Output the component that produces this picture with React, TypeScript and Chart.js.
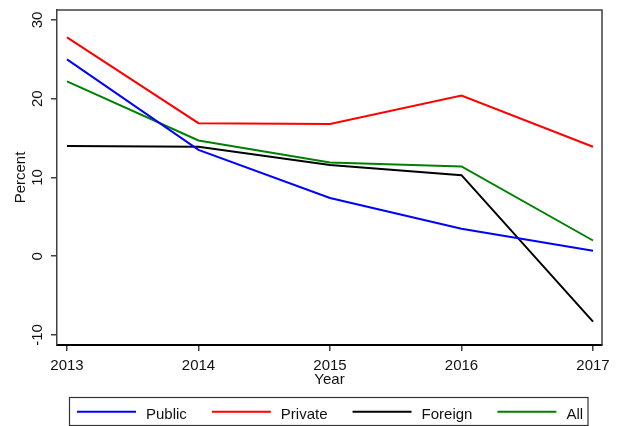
import React, { useEffect, useRef } from "react";
import { Chart, registerables } from "chart.js";

Chart.register(...registerables);

const years = [2013, 2014, 2015, 2016, 2017];
const publicVals = [25.0, 13.5, 7.4, 3.5, 0.7];
const privateVals = [27.8, 16.9, 16.8, 20.4, 13.9];
const foreignVals = [14.0, 13.9, 11.6, 10.3, -8.3];
const allVals = [22.2, 14.7, 11.9, 11.4, 2.0];
const yTicks = [-10, 0, 10, 20, 30];
const seriesNames = ["Public", "Private", "Foreign", "All"];
const seriesColors = ["#0000ff", "#ff0000", "#000000", "#008000"];
const xTitle = "Year";
const yTitle = "Percent";

const FONT = '15px "Liberation Sans", Arial, sans-serif';

const decorPlugin = {
  id: "decor",
  afterDraw(chart: any) {
    const ctx = chart.ctx as CanvasRenderingContext2D;
    const ca = chart.chartArea;
    const xs = chart.scales.x;
    const ys = chart.scales.y;
    ctx.save();
    // frame top / right
    ctx.strokeStyle = "#404040";
    ctx.lineWidth = 1.5;
    ctx.beginPath();
    ctx.moveTo(ca.left, ca.top);
    ctx.lineTo(ca.right, ca.top);
    ctx.lineTo(ca.right, ca.bottom);
    ctx.stroke();

    ctx.fillStyle = "#111";
    ctx.font = FONT;
    // x tick labels
    ctx.textAlign = "center";
    ctx.textBaseline = "alphabetic";
    years.forEach((yr) => {
      ctx.fillText(String(yr), xs.getPixelForValue(yr), 369.5);
    });
    // x title
    ctx.fillText(xTitle, (ca.left + ca.right) / 2, 383.5);

    // y tick labels rotated
    yTicks.forEach((v) => {
      const py = ys.getPixelForValue(v);
      ctx.save();
      ctx.translate(41.7, py);
      ctx.rotate(-Math.PI / 2);
      ctx.textAlign = "center";
      ctx.textBaseline = "alphabetic";
      ctx.fillText(String(v), 0, 0);
      ctx.restore();
    });
    // y title
    ctx.save();
    ctx.translate(25, (ca.top + ca.bottom) / 2);
    ctx.rotate(-Math.PI / 2);
    ctx.textAlign = "center";
    ctx.fillText(yTitle, 0, 0);
    ctx.restore();

    // legend
    const bx = 69.5, by = 397.5, bw = 518.5, bh = 28;
    ctx.strokeStyle = "#333";
    ctx.lineWidth = 1.2;
    ctx.strokeRect(bx, by, bw, bh);
    let x = 77;
    const ly = 411.7;
    ctx.textAlign = "left";
    chart.data.datasets.forEach((ds: any) => {
      ctx.strokeStyle = ds.borderColor;
      ctx.lineWidth = 2;
      ctx.beginPath();
      ctx.moveTo(x, ly);
      ctx.lineTo(x + 59, ly);
      ctx.stroke();
      x += 69;
      ctx.fillStyle = "#111";
      ctx.fillText(ds.label, x, 418.7);
      x += ctx.measureText(ds.label).width + 25;
    });
    ctx.restore();
  },
};

export default function App() {
  const ref = useRef<HTMLCanvasElement>(null);
  useEffect(() => {
    const seriesData = [publicVals, privateVals, foreignVals, allVals];
    const chart = new Chart(ref.current!, {
      type: "line",
      data: {
        datasets: seriesData.map((vals, i) => ({
          label: seriesNames[i],
          data: years.map((yr, j) => ({ x: yr, y: vals[j] })),
          borderColor: seriesColors[i],
          backgroundColor: seriesColors[i],
          borderWidth: 2,
          pointRadius: 0,
          tension: 0,
          fill: false,
        })),
      },
      options: {
        animation: false,
        responsive: false,
        maintainAspectRatio: false,
        layout: { padding: { left: 0, top: 10, right: 17, bottom: 0 } },
        plugins: { legend: { display: false }, tooltip: { enabled: false } },
        scales: {
          x: {
            type: "linear",
            min: 2012.924,
            max: 2017.0684,
            afterBuildTicks: (s: any) => {
              s.ticks = years.map((v) => ({ value: v }));
            },
            afterFit: (s: any) => {
              s.height = 81;
            },
            ticks: { display: false },
            grid: { drawOnChartArea: false, drawTicks: true, tickLength: 6, color: "#404040", lineWidth: 1.5 },
            border: { display: true, color: "#000", width: 2 },
          },
          y: {
            type: "linear",
            min: -11.27,
            max: 31.27,
            afterBuildTicks: (s: any) => {
              s.ticks = yTicks.map((v) => ({ value: v }));
            },
            afterFit: (s: any) => {
              s.width = 57;
            },
            ticks: { display: false },
            grid: { drawOnChartArea: false, drawTicks: true, tickLength: 6, color: "#404040", lineWidth: 1.5 },
            border: { display: true, color: "#404040", width: 1.5 },
          },
        },
      },
      plugins: [decorPlugin],
    } as any);
    return () => chart.destroy();
  }, []);
  return (
    <div style={{ position: "fixed", left: 0, top: 0, width: 619, height: 426, background: "#fff" }}>
      <canvas ref={ref} width={619} height={426} style={{ display: "block", width: 619, height: 426 }} />
    </div>
  );
}
